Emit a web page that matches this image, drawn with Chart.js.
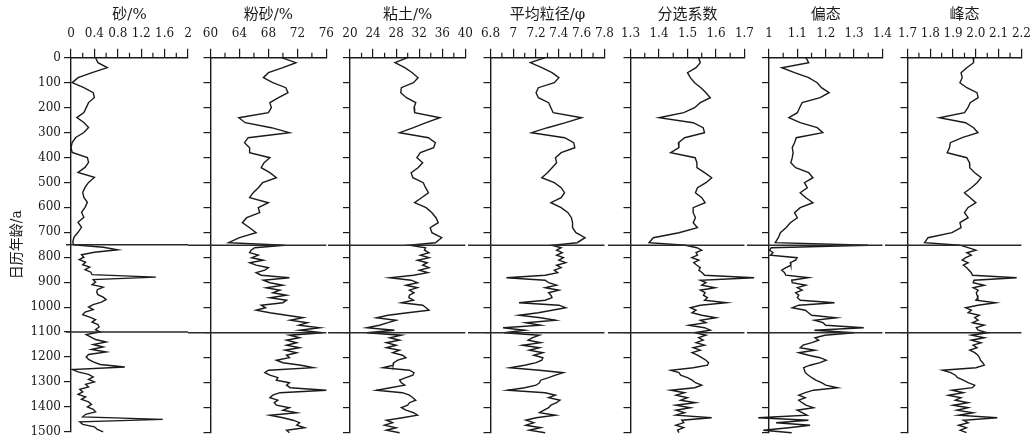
<!DOCTYPE html>
<html lang="zh">
<head>
<meta charset="UTF-8">
<title>粒度参数剖面</title>
<script src="https://cdn.jsdelivr.net/npm/chart.js"></script>
<style>
  html, body { margin: 0; padding: 0; background: #fff; }
  #wrap { position: relative; width: 1033px; height: 442px; overflow: hidden; }
  #wrap canvas { position: absolute; top: 0; }
</style>
</head>
<body>
<div id="wrap"></div>
<script>
// calendar age (a) of each reading
const ages = [
  0, 20, 40, 60, 80, 100, 120, 140, 160, 180,
  200, 220, 240, 260, 280, 300, 320, 340, 360, 380,
  400, 420, 440, 460, 480, 500, 520, 540, 560, 580,
  600, 620, 640, 660, 680, 700, 720, 740,
  750, 760, 770, 780, 790, 800, 810, 820, 830, 840,
  850, 860, 870, 880, 890, 900, 910, 920, 930, 940,
  950, 960, 970, 980, 990, 1000, 1010, 1020, 1030, 1040,
  1050, 1060, 1070, 1080, 1090, 1100, 1110, 1120, 1130, 1140,
  1150, 1160, 1170, 1180, 1190, 1200, 1210, 1220, 1230, 1240,
  1250, 1260, 1270, 1280, 1290, 1300, 1310, 1320, 1330, 1340,
  1350, 1360, 1370, 1380, 1390, 1400, 1410, 1420, 1430, 1440,
  1450, 1460, 1470, 1480, 1490, 1500
];

const sand = [
  0.42, 0.46, 0.62, 0.36, 0.12, 0.02, 0.22, 0.38, 0.40, 0.30,
  0.26, 0.22, 0.10, 0.22, 0.30, 0.22, 0.08, 0.02, 0.00, 0.02,
  0.28, 0.30, 0.24, 0.12, 0.40, 0.30, 0.24, 0.20, 0.22, 0.28,
  0.24, 0.18, 0.22, 0.12, 0.18, 0.12, 0.05, 0.03,
  0.05, 0.55, 0.80, 0.40, 0.18, 0.22, 0.14, 0.25, 0.20, 0.32,
  0.24, 0.34, 0.36, 1.45, 0.38, 0.42, 0.36, 0.55, 0.45, 0.44,
  0.46, 0.55, 0.60, 0.52, 0.38, 0.30, 0.38, 0.24, 0.20, 0.32,
  0.42, 0.36, 0.46, 0.48, 0.42, 0.50, 0.26, 0.34, 0.42, 0.60,
  0.38, 0.55, 0.35, 0.60, 0.30, 0.26, 0.30, 0.38, 0.50, 0.92,
  0.02, 0.12, 0.30, 0.38, 0.30, 0.40, 0.25, 0.30, 0.15, 0.20,
  0.12, 0.25, 0.18, 0.30, 0.35, 0.28, 0.38, 0.42, 0.25, 0.20,
  1.57, 0.15, 0.20, 0.40, 0.45, 0.55
];

const silt = [
  69.8, 71.8, 70.0, 68.0, 67.3, 68.6, 70.4, 70.7, 69.4, 68.2,
  68.4, 68.0, 63.9, 64.8, 68.4, 70.9, 65.2, 64.7, 65.4, 65.4,
  68.2, 67.4, 67.0, 68.2, 69.1, 67.2, 66.6, 65.9, 65.4, 68.0,
  66.6, 66.8, 65.0, 64.4, 65.4, 66.3, 64.0, 62.5,
  70.2, 66.1, 65.6, 65.4, 66.6, 65.7, 67.3, 65.4, 66.3, 68.0,
  67.5, 66.3, 67.0, 70.9, 67.3, 68.2, 70.0, 67.7, 69.6, 68.6,
  70.5, 68.2, 70.5, 70.0, 67.0, 67.6, 66.3, 68.2, 70.5, 72.8,
  71.0, 73.4, 72.2, 75.1, 72.3, 75.5, 70.9, 72.3, 70.5, 71.9,
  70.5, 72.3, 70.3, 71.9, 70.5, 70.9, 69.1, 70.0, 72.5, 74.2,
  68.0, 67.5, 68.2, 69.3, 69.1, 70.9, 70.5, 71.0, 76.0, 69.6,
  68.6, 68.2, 69.3, 68.8, 69.1, 70.9, 70.0, 71.9, 68.2, 70.0,
  71.4, 72.3, 71.9, 73.0, 70.5, 70.9
];

const clay = [
  30.0, 27.8, 29.5, 30.8, 31.8, 31.0, 28.9, 28.8, 29.8, 31.4,
  31.1, 31.2, 35.6, 33.2, 31.0, 28.6, 33.6, 34.8, 34.5, 32.2,
  31.6, 32.6, 31.8, 30.6, 30.9, 32.7, 33.1, 33.6, 32.4, 31.2,
  33.2, 34.2, 34.9, 35.3, 33.9, 34.2, 35.9, 34.8,
  30.3, 33.1, 32.9, 33.7, 32.2, 33.7, 31.7, 33.4, 32.6, 33.7,
  32.0, 33.5, 31.0, 26.9, 30.6, 31.7, 29.7, 31.7, 30.3, 31.1,
  30.3, 30.2, 31.0, 28.9, 32.6, 33.2, 33.7, 30.0, 26.6, 24.6,
  28.0, 26.6, 25.1, 22.9, 27.7, 22.9, 28.9, 26.9, 28.6, 26.3,
  28.0, 26.3, 28.6, 27.4, 29.1, 29.7, 28.3, 27.6, 27.5, 25.7,
  30.3, 31.1, 30.9, 29.7, 28.6, 28.9, 29.5, 27.0, 24.6, 29.1,
  30.3, 30.9, 31.4, 30.3, 30.0, 28.9, 29.7, 31.0, 31.7, 29.1,
  26.3, 27.4, 26.0, 28.0, 26.3, 28.6
];

const meanSize = [
  7.28, 7.15, 7.25, 7.34, 7.40, 7.36, 7.22, 7.20, 7.22, 7.31,
  7.33, 7.35, 7.60, 7.46, 7.30, 7.16, 7.45, 7.53, 7.54, 7.42,
  7.37, 7.38, 7.34, 7.30, 7.25, 7.36, 7.42, 7.45, 7.42, 7.33,
  7.42, 7.48, 7.51, 7.52, 7.52, 7.55, 7.63, 7.56,
  7.34, 7.42, 7.38, 7.43, 7.38, 7.44, 7.40, 7.46, 7.38, 7.42,
  7.36, 7.39, 7.28, 6.94, 7.28, 7.31, 7.38, 7.28, 7.40, 7.31,
  7.33, 7.34, 7.28, 7.05, 7.40, 7.46, 7.34, 7.22, 7.05, 7.24,
  7.37, 7.11, 7.24, 6.91, 7.10, 6.92, 7.23, 7.17, 7.13, 7.24,
  7.08, 7.23, 7.14, 7.26, 7.18, 7.26, 7.25, 7.20, 7.10, 6.97,
  7.23, 7.44, 7.37, 7.31, 7.24, 7.23, 7.20, 7.10, 6.95, 7.28,
  7.37, 7.31, 7.41, 7.38, 7.33, 7.31, 7.27, 7.23, 7.37, 7.20,
  7.11, 7.18, 7.11, 7.24, 7.14, 7.28
];

const sorting = [
  1.539, 1.545, 1.530, 1.500, 1.510, 1.525, 1.547, 1.565, 1.580, 1.545,
  1.525, 1.487, 1.400, 1.520, 1.555, 1.560, 1.490, 1.468, 1.470, 1.441,
  1.527, 1.533, 1.533, 1.560, 1.585, 1.565, 1.535, 1.528, 1.550, 1.562,
  1.520, 1.520, 1.528, 1.520, 1.535, 1.470, 1.380, 1.365,
  1.493, 1.533, 1.550, 1.530, 1.535, 1.515, 1.540, 1.522, 1.533, 1.545,
  1.540, 1.552, 1.560, 1.734, 1.545, 1.565, 1.550, 1.597, 1.545, 1.562,
  1.556, 1.570, 1.560, 1.637, 1.545, 1.510, 1.530, 1.516, 1.550, 1.600,
  1.545, 1.565, 1.505, 1.560, 1.580, 1.525, 1.565, 1.539, 1.555, 1.530,
  1.560, 1.520, 1.545, 1.516, 1.535, 1.550, 1.565, 1.574, 1.570, 1.520,
  1.441, 1.470, 1.476, 1.500, 1.516, 1.528, 1.550, 1.525, 1.441, 1.490,
  1.460, 1.500, 1.476, 1.528, 1.459, 1.510, 1.459, 1.490, 1.459, 1.585,
  1.480, 1.487, 1.459, 1.487, 1.465, 1.470
];

const skewness = [
  1.130, 1.140, 1.045, 1.090, 1.140, 1.170, 1.185, 1.212, 1.180, 1.117,
  1.108, 1.100, 1.070, 1.110, 1.170, 1.190, 1.096, 1.090, 1.082, 1.085,
  1.082, 1.077, 1.094, 1.140, 1.155, 1.125, 1.135, 1.110, 1.130, 1.155,
  1.110, 1.090, 1.100, 1.075, 1.060, 1.040, 1.033, 1.022,
  1.350, 1.008, 1.002, 1.014, 1.005, 1.099, 1.094, 1.075, 1.077, 1.060,
  1.045, 1.055, 1.059, 1.139, 1.080, 1.082, 1.130, 1.100, 1.117, 1.094,
  1.105, 1.100, 1.111, 1.231, 1.105, 1.082, 1.128, 1.139, 1.150, 1.237,
  1.160, 1.190, 1.200, 1.334, 1.160, 1.300, 1.197, 1.162, 1.175, 1.151,
  1.120, 1.110, 1.162, 1.105, 1.140, 1.180, 1.202, 1.180, 1.145, 1.122,
  1.125, 1.128, 1.139, 1.151, 1.165, 1.185, 1.200, 1.242, 1.157, 1.128,
  1.105, 1.128, 1.105, 1.117, 1.130, 1.157, 1.099, 1.117, 1.134, 0.962,
  1.139, 1.025, 1.145, 1.070, 0.980, 1.080
];

const kurtosis = [
  1.988, 1.990, 1.960, 1.935, 1.940, 1.930, 1.960, 2.005, 2.010, 1.975,
  1.965, 1.950, 1.840, 1.955, 1.990, 2.009, 1.940, 1.888, 1.884, 1.874,
  1.960, 1.972, 1.973, 1.995, 2.023, 2.005, 1.980, 1.950, 1.975, 2.000,
  1.965, 1.950, 1.966, 1.930, 1.935, 1.895, 1.790, 1.775,
  1.930, 1.966, 2.000, 1.960, 1.980, 1.955, 1.940, 1.966, 1.945, 1.960,
  1.970, 1.980, 1.985, 2.179, 1.992, 1.988, 2.037, 1.988, 2.010, 2.002,
  2.005, 2.009, 2.000, 2.087, 2.009, 1.955, 1.980, 1.966, 2.015, 1.995,
  2.010, 1.985, 2.037, 2.002, 2.010, 2.051, 1.980, 2.037, 1.980, 2.023,
  1.988, 2.005, 1.973, 1.995, 2.009, 2.016, 2.020, 2.030, 2.037, 2.000,
  1.853, 1.890, 1.910, 1.920, 1.945, 1.966, 1.995, 1.985, 1.895, 1.945,
  1.880, 1.935, 1.910, 1.966, 1.900, 1.966, 1.917, 1.988, 1.924, 2.094,
  1.945, 1.966, 1.924, 1.959, 1.931, 1.959
];

// top axis labels of each panel
const sandTicks = ['0', '0.4', '0.8', '1.2', '1.6', '2'];
const siltTicks = ['60', '64', '68', '72', '76'];
const clayTicks = ['20', '24', '28', '32', '36', '40'];
const meanTicks = ['6.8', '7', '7.2', '7.4', '7.6', '7.8'];
const sortTicks = ['1.3', '1.4', '1.5', '1.6', '1.7'];
const skewTicks = ['1', '1.1', '1.2', '1.3', '1.4'];
const kurtTicks = ['1.7', '1.8', '1.9', '2.0', '2.1', '2.2'];

// boundaries drawn across all panels
const breakAges = [750, 1100];

const panels = [
  { title: '砂/%', vals: sand, ticks: sandTicks },
  { title: '粉砂/%', vals: silt, ticks: siltTicks },
  { title: '粘土/%', vals: clay, ticks: clayTicks },
  { title: '平均粒径/φ', vals: meanSize, ticks: meanTicks },
  { title: '分选系数', vals: sorting, ticks: sortTicks },
  { title: '偏态', vals: skewness, ticks: skewTicks },
  { title: '峰态', vals: kurtosis, ticks: kurtTicks }
];

// layout
const plotLeft = [71, 210.5, 350, 490.5, 630.5, 769, 907.5];
const plotW = 117, plotTop = 57.7, plotBottom = 432.7, H = 442;
const ink = '#1a1a1a';
const numFont = { family: '"DejaVu Serif", serif', size: 12 };
const titleFont = { family: '"DejaVu Serif", "Noto Sans CJK SC", serif', size: 15 };

// minor ticks on the top axis + the horizontal boundary lines
const extras = {
  id: 'extras',
  afterDraw(chart, args, opts) {
    const { ctx, chartArea: ca, scales: { x, y } } = chart;
    ctx.save();
    ctx.strokeStyle = ink;
    ctx.lineWidth = 1.2;
    ctx.beginPath();
    for (let k = 0; k + 1 < opts.ticks.length; k++) {
      const px = x.getPixelForValue((opts.ticks[k] + opts.ticks[k + 1]) / 2);
      ctx.moveTo(px, ca.top);
      ctx.lineTo(px, ca.top - 5);
    }
    ctx.stroke();
    ctx.strokeStyle = '#2a2a2a';
    ctx.lineWidth = 1.6;
    ctx.beginPath();
    breakAges.forEach(a => {
      const py = y.getPixelForValue(a);
      ctx.moveTo(ca.left - opts.lead, py);
      ctx.lineTo(ca.right, py);
    });
    ctx.stroke();
    ctx.restore();
  }
};

const wrap = document.getElementById('wrap');

panels.forEach((p, i) => {
  const first = i === 0;
  const cLeft = first ? 0 : Math.floor(plotLeft[i]) - 22;
  const yW = plotLeft[i] - cLeft;
  const cW = Math.ceil(yW + plotW + 14);
  const canvas = document.createElement('canvas');
  canvas.width = cW;
  canvas.height = H;
  canvas.style.left = cLeft + 'px';
  canvas.style.width = cW + 'px';
  canvas.style.height = H + 'px';
  wrap.appendChild(canvas);

  const tickVals = p.ticks.map(Number);

  new Chart(canvas, {
    type: 'scatter',
    data: {
      datasets: [{
        data: ages.map((a, k) => ({ x: p.vals[k], y: a })),
        showLine: true,
        borderColor: ink,
        borderWidth: 1.4,
        pointRadius: 0,
        clip: false
      }]
    },
    options: {
      responsive: false,
      animation: false,
      devicePixelRatio: 1,
      layout: { padding: { left: 0, top: 0, right: cW - yW - plotW, bottom: H - plotBottom } },
      plugins: {
        legend: { display: false },
        tooltip: { enabled: false },
        extras: { ticks: tickVals, lead: first ? 5 : yW }
      },
      scales: {
        x: {
          type: 'linear',
          position: 'top',
          min: tickVals[0],
          max: tickVals[tickVals.length - 1],
          afterBuildTicks: s => { s.ticks = tickVals.map(v => ({ value: v })); },
          afterFit: s => { s.height = plotTop; },
          ticks: {
            autoSkip: false, maxRotation: 0, padding: 8, color: ink, font: numFont,
            callback: (v, k) => p.ticks[k]
          },
          grid: { drawOnChartArea: false, tickLength: 9, color: ink, lineWidth: 1.2 },
          border: { display: true, color: ink, width: 1.4 },
          title: { display: true, text: p.title, color: ink, font: titleFont, padding: { top: 6, bottom: 0 } }
        },
        y: {
          type: 'linear',
          reverse: true,
          min: 0,
          max: 1500,
          afterFit: s => { s.width = yW; },
          ticks: {
            display: first, stepSize: 100, autoSkip: false, padding: 3, color: ink, font: numFont,
            callback: v => String(v)
          },
          grid: { drawOnChartArea: false, tickLength: 7, color: ink, lineWidth: 1.2 },
          border: { display: true, color: ink, width: 1.4 },
          title: {
            display: first, text: '日历年龄/a', color: ink,
            font: { family: '"DejaVu Serif", "Noto Sans CJK SC", serif', size: 14 },
            padding: { top: 9, bottom: 0 }
          }
        }
      }
    },
    plugins: [extras]
  });
});
</script>
</body>
</html>
